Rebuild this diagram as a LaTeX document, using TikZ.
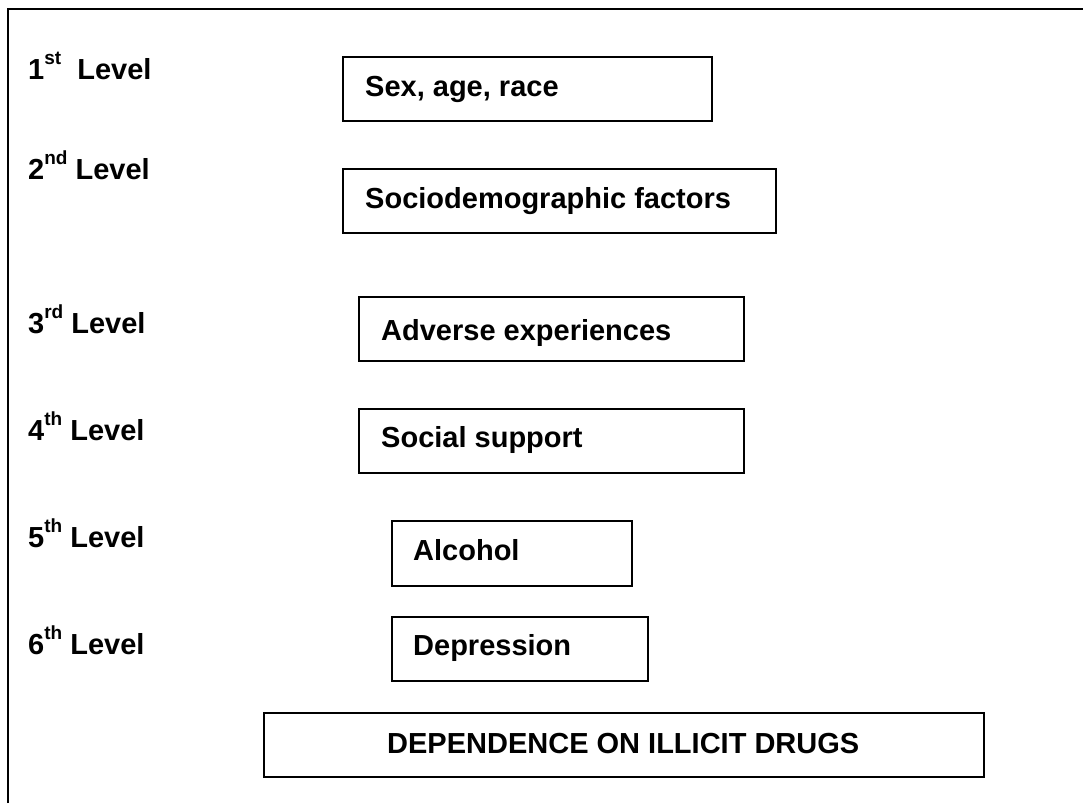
\documentclass[tikz,border=0pt]{standalone}
\usepackage{fontspec}
\setmainfont{Liberation Sans}
\newcommand{\lvsup}[1]{\raisebox{15pt}{\fontsize{19}{19}\selectfont #1}}
\tikzset{
  txt/.style={anchor=base west, inner sep=0pt, font=\fontsize{29}{34}\selectfont\bfseries},
  lvl/.style={txt},
  boxr/.style={draw=black, line width=1.8pt},
  frame/.style={draw=black, line width=2pt}
}
\begin{document}
\begin{tikzpicture}[x=1pt,y=-1pt]
\useasboundingbox (0,0) rectangle (1083,803);
% partial outer frame
\coordinate (fbl) at (8,803);
\coordinate (ftl) at (8,9);
\coordinate (ftr) at (1083,9);
\draw[frame] (fbl) -- (ftl) -- (ftr);

% level labels
\node[lvl] (l1) at (28,79) {1\lvsup{st}\ \ Level};
\node[lvl] (l2) at (28,179) {2\lvsup{nd} Level};
\node[lvl] (l3) at (28,333) {3\lvsup{rd} Level};
\node[lvl] (l4) at (28,440) {4\lvsup{th} Level};
\node[lvl] (l5) at (28,547) {5\lvsup{th} Level};
\node[lvl] (l6) at (28,654) {6\lvsup{th} Level};

% boxes
\draw[boxr] (343,57) rectangle (712,121);
\node[txt] (t1) at (365,96) {Sex, age, race};

\draw[boxr] (343,169) rectangle (776,233);
\node[txt] (t2) at (365,208) {Sociodemographic factors};

\draw[boxr] (359,297) rectangle (744,361);
\node[txt] (t3) at (381,340) {Adverse experiences};

\draw[boxr] (359,409) rectangle (744,473);
\node[txt] (t4) at (381,447) {Social support};

\draw[boxr] (392,521) rectangle (632,586);
\node[txt] (t5) at (413,560) {Alcohol};

\draw[boxr] (392,617) rectangle (648,681);
\node[txt] (t6) at (413,655) {Depression};

\draw[boxr] (264,713) rectangle (984,777);
\node[txt] (t7) at (387,753) {DEPENDENCE ON ILLICIT DRUGS};
\end{tikzpicture}
\end{document}
